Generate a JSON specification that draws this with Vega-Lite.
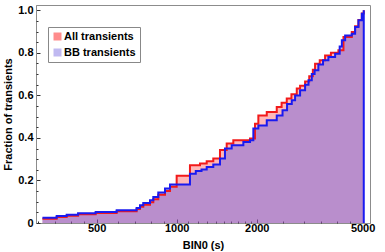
{
  "$schema": "https://vega.github.io/schema/vega-lite/v6.json",
  "width": 334,
  "height": 218,
  "autosize": {"type": "none"},
  "padding": {"left": 36, "top": 5, "right": 15, "bottom": 29},
  "background": "white",
  "datasets": {
    "all": [
      {"x": 313, "y": 0.020}, {"x": 354, "y": 0.028}, {"x": 386, "y": 0.034}, {"x": 426, "y": 0.041},
      {"x": 496, "y": 0.047}, {"x": 595, "y": 0.055}, {"x": 707, "y": 0.066}, {"x": 728, "y": 0.076},
      {"x": 749, "y": 0.086}, {"x": 794, "y": 0.098}, {"x": 817, "y": 0.112}, {"x": 853, "y": 0.133},
      {"x": 904, "y": 0.150}, {"x": 944, "y": 0.170}, {"x": 1000, "y": 0.222}, {"x": 1122, "y": 0.271},
      {"x": 1224, "y": 0.280}, {"x": 1297, "y": 0.290}, {"x": 1373, "y": 0.303}, {"x": 1455, "y": 0.343},
      {"x": 1542, "y": 0.374}, {"x": 1633, "y": 0.389}, {"x": 1887, "y": 0.397}, {"x": 1970, "y": 0.467},
      {"x": 2028, "y": 0.506}, {"x": 2181, "y": 0.522}, {"x": 2378, "y": 0.545}, {"x": 2480, "y": 0.565},
      {"x": 2593, "y": 0.585}, {"x": 2700, "y": 0.605}, {"x": 2828, "y": 0.632}, {"x": 2910, "y": 0.645},
      {"x": 3039, "y": 0.665}, {"x": 3150, "y": 0.690}, {"x": 3250, "y": 0.720}, {"x": 3313, "y": 0.749},
      {"x": 3450, "y": 0.765}, {"x": 3613, "y": 0.788}, {"x": 3800, "y": 0.800}, {"x": 4055, "y": 0.812},
      {"x": 4236, "y": 0.875}, {"x": 4553, "y": 0.898}, {"x": 4685, "y": 0.925}, {"x": 4823, "y": 0.955},
      {"x": 4966, "y": 0.985}, {"x": 5050, "y": 1.0}
    ],
    "bb": [
      {"x": 313, "y": 0.025}, {"x": 354, "y": 0.033}, {"x": 386, "y": 0.039}, {"x": 426, "y": 0.046},
      {"x": 496, "y": 0.052}, {"x": 595, "y": 0.060}, {"x": 707, "y": 0.071}, {"x": 728, "y": 0.083},
      {"x": 749, "y": 0.094}, {"x": 794, "y": 0.107}, {"x": 817, "y": 0.122}, {"x": 853, "y": 0.143},
      {"x": 904, "y": 0.162}, {"x": 944, "y": 0.181}, {"x": 1122, "y": 0.232}, {"x": 1180, "y": 0.244},
      {"x": 1240, "y": 0.252}, {"x": 1297, "y": 0.263}, {"x": 1373, "y": 0.275}, {"x": 1455, "y": 0.303},
      {"x": 1519, "y": 0.350}, {"x": 1610, "y": 0.365}, {"x": 1781, "y": 0.381}, {"x": 1887, "y": 0.389},
      {"x": 1942, "y": 0.444}, {"x": 2028, "y": 0.459}, {"x": 2181, "y": 0.483}, {"x": 2378, "y": 0.506},
      {"x": 2500, "y": 0.530}, {"x": 2600, "y": 0.560}, {"x": 2708, "y": 0.577}, {"x": 2787, "y": 0.600},
      {"x": 2910, "y": 0.624}, {"x": 3039, "y": 0.650}, {"x": 3130, "y": 0.671}, {"x": 3220, "y": 0.700},
      {"x": 3300, "y": 0.718}, {"x": 3409, "y": 0.745}, {"x": 3550, "y": 0.765}, {"x": 3718, "y": 0.780},
      {"x": 3941, "y": 0.796}, {"x": 4100, "y": 0.830}, {"x": 4177, "y": 0.859}, {"x": 4298, "y": 0.882},
      {"x": 4553, "y": 0.890}, {"x": 4685, "y": 0.921}, {"x": 4823, "y": 0.953}, {"x": 4966, "y": 0.984},
      {"x": 5050, "y": 1.0}, {"x": 5050, "y": 0}
    ]
  },
  "resolve": {"axis": {"x": "independent", "y": "independent"}},
  "layer": [
    {
      "data": {"name": "all"},
      "mark": {"type": "area", "interpolate": "step-after", "fillOpacity": 0.28},
      "encoding": {
        "x": {"field": "x", "type": "quantitative",
          "scale": {"type": "log", "domain": [296, 5330], "nice": false},
          "axis": {"values": [500, 1000, 2000, 5000], "format": "d", "tickSize": -4, "labelPadding": 3,
            "title": "BIN0 (s)", "titlePadding": 6, "grid": false, "labelFlush": false}},
        "y": {"field": "y", "type": "quantitative",
          "scale": {"domain": [0, 1.025], "nice": false, "zero": true},
          "axis": {"values": [0, 0.2, 0.4, 0.6, 0.8, 1.0],
            "labelExpr": "datum.value == 0 ? '0' : format(datum.value, '.1f')",
            "tickSize": -4, "labelPadding": 7, "title": "Fraction of transients", "titlePadding": 4,
            "grid": false, "labelFlush": false}},
        "fill": {"datum": "All transients", "type": "nominal",
          "scale": {"domain": ["All transients", "BB transients"], "range": ["#ff0000", "#7364e0"]},
          "legend": {"title": null, "orient": "none", "legendX": 12, "legendY": 22, "symbolType": "square",
            "symbolSize": 64, "symbolOpacity": 0.45, "symbolStrokeWidth": 0, "strokeColor": "#888",
            "fillColor": "white", "padding": 4, "rowPadding": 4, "labelOffset": 1,
            "labelFont": "Liberation Sans", "labelFontWeight": "bold", "labelFontSize": 11, "labelColor": "black"}}
      }
    },
    {
      "data": {"name": "bb"},
      "mark": {"type": "area", "interpolate": "step-after", "fillOpacity": 0.5},
      "encoding": {
        "x": {"field": "x", "type": "quantitative",
          "axis": {"orient": "bottom", "values": [300, 350, 400, 450, 600, 700, 800, 900, 1100, 1200, 1300, 1400, 1500, 1600, 1700, 1800, 1900, 2500, 3000, 3500, 4000, 4500],
            "labels": false, "domain": false, "tickSize": -2, "title": null, "grid": false}},
        "y": {"field": "y", "type": "quantitative",
          "axis": {"orient": "left", "values": [0.05, 0.1, 0.15, 0.25, 0.3, 0.35, 0.45, 0.5, 0.55, 0.65, 0.7, 0.75, 0.85, 0.9, 0.95],
            "labels": false, "domain": false, "tickSize": -2, "title": null, "grid": false}},
        "fill": {"datum": "BB transients", "type": "nominal"}
      }
    },
    {
      "data": {"name": "all"},
      "mark": {"type": "line", "interpolate": "step-after", "strokeWidth": 2, "color": "#f21a1a"},
      "encoding": {
        "x": {"field": "x", "type": "quantitative", "axis": null},
        "y": {"field": "y", "type": "quantitative", "axis": null},
        "order": {"value": null}
      }
    },
    {
      "data": {"name": "bb"},
      "mark": {"type": "line", "interpolate": "step-after", "strokeWidth": 2, "color": "#1a1af0"},
      "encoding": {
        "x": {"field": "x", "type": "quantitative", "axis": null},
        "y": {"field": "y", "type": "quantitative", "axis": null},
        "order": {"value": null}
      }
    }
  ],
  "config": {
    "view": {"stroke": "#8c8c8c", "strokeWidth": 1},
    "font": "Liberation Sans",
    "axis": {
      "domainColor": "#8c8c8c",
      "tickColor": "#333333",
      "labelFont": "Liberation Sans",
      "labelFontWeight": "bold",
      "labelFontSize": 11,
      "labelColor": "black",
      "titleFont": "Liberation Sans",
      "titleFontWeight": "bold",
      "titleFontSize": 11,
      "titleColor": "black"
    }
  }
}
